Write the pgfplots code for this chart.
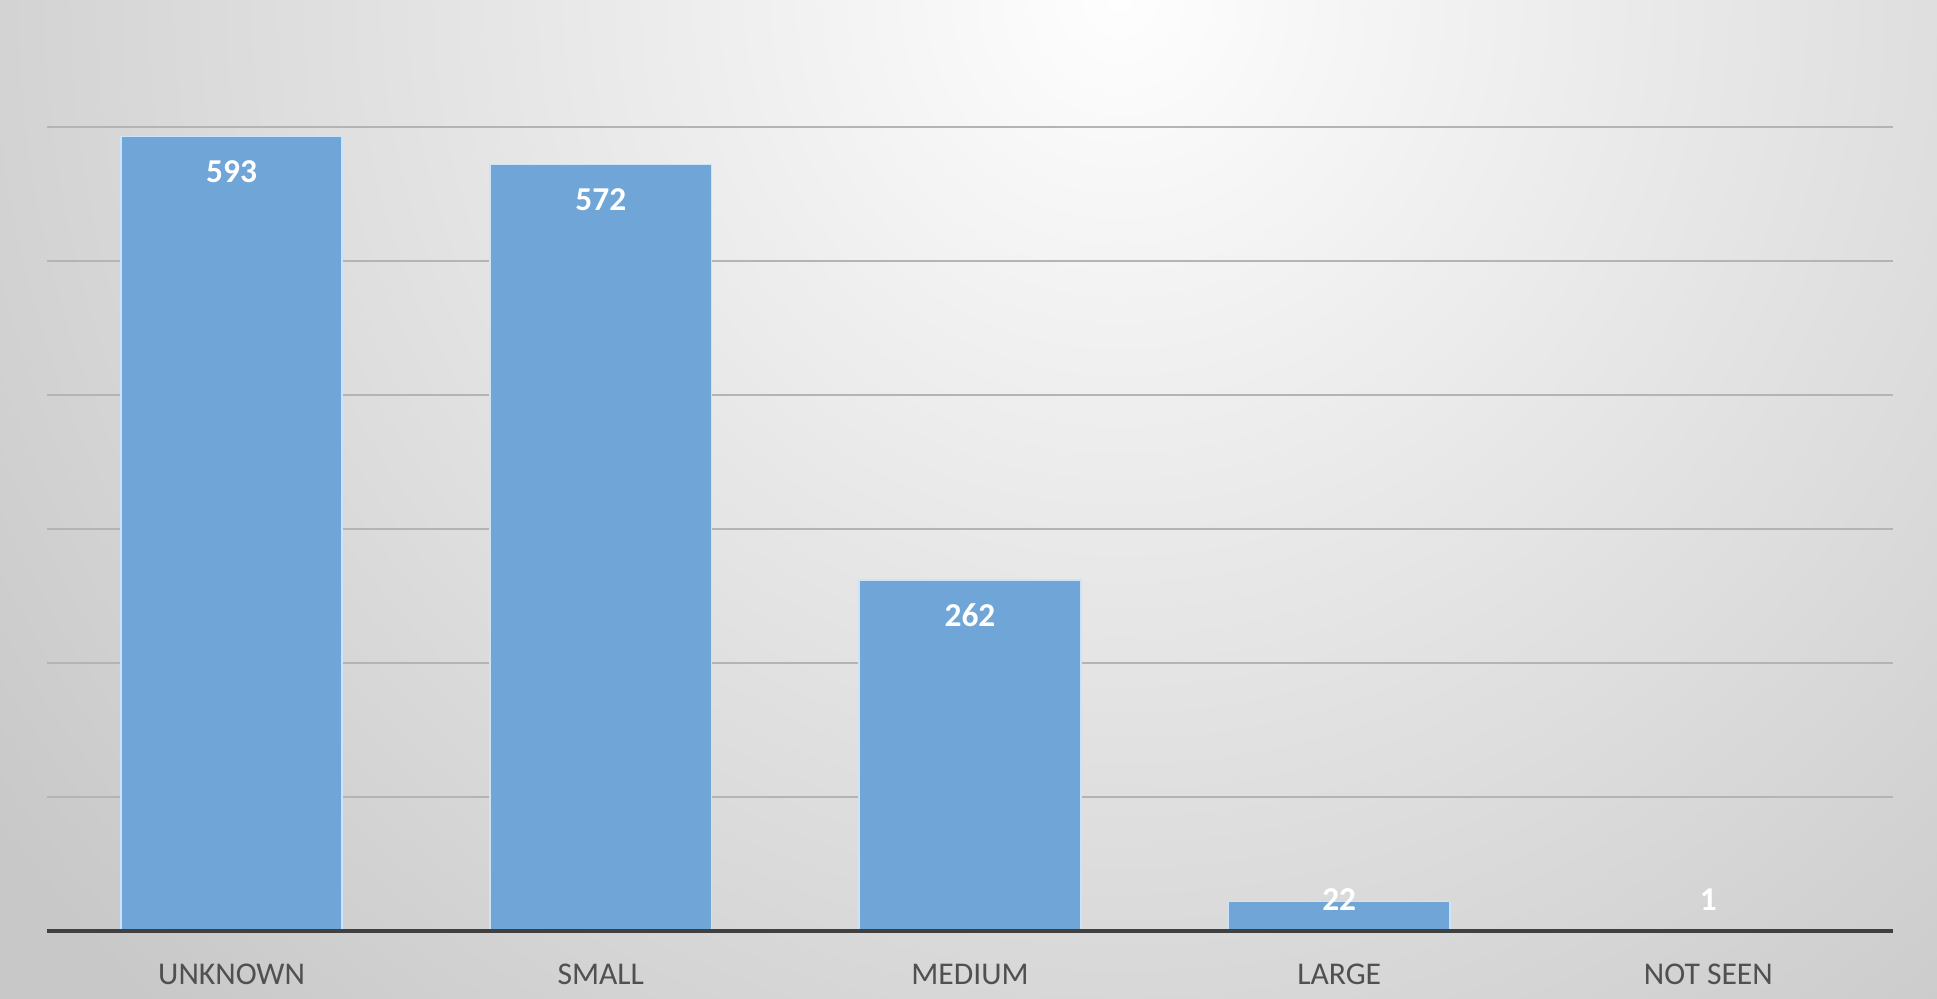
\documentclass[border=0pt]{standalone}
\usepackage{fontspec}
\setmainfont{Carlito}
\usepackage{pgfplots}
\pgfplotsset{compat=1.18}
\definecolor{barblue}{RGB}{111,165,215}
\definecolor{baredge}{RGB}{205,228,248}
\definecolor{gridgray}{RGB}{180,180,180}
\definecolor{axisdark}{RGB}{64,64,64}
\definecolor{ticktext}{RGB}{80,80,80}
\definecolor{bgouter}{RGB}{200,200,200}
\definecolor{bginner}{RGB}{254,254,254}
\begin{document}
\begin{tikzpicture}
% background gradient
\begin{scope}
  \clip (0,0) rectangle (19.37,9.99);
  \fill[bgouter] (0,0) rectangle (19.37,9.99);
  \shade[inner color=bginner, outer color=bgouter] (11.2,10) circle (14cm);
\end{scope}
\path[use as bounding box] (0,0) rectangle (19.37,9.99);
\begin{axis}[
    at={(0.47cm,0.68cm)}, anchor=south west,
    scale only axis,
    width=18.46cm, height=8.04cm,
    ybar, bar width=0.6,
    xmin=-0.5, xmax=4.5, ymin=0, ymax=600,
    xtick=data,
    xticklabels={UNKNOWN, SMALL, MEDIUM, LARGE, NOT SEEN},
    ytick={0,100,...,600}, yticklabels={},
    major tick length=0pt,
    ymajorgrids,
    grid style={gridgray, line width=0.6pt},
    axis x line*=bottom, axis y line*=left,
    y axis line style={draw=none},
    x axis line style={draw=none},
    xticklabel style={font=\fontsize{9}{11}\selectfont, text=ticktext, yshift=-0.21cm},
    /pgf/number format/assume math mode=true,
    clip=false,
    visualization depends on={y \as \rawy},
    nodes near coords,
    nodes near coords style={anchor=center, text=white,
        font=\fontsize{9.5}{11}\selectfont\bfseries,
        yshift={28.45274*max(-0.35,0.31-0.0134*\rawy)}},
]
\addplot[fill=barblue, draw=baredge, line width=0.5pt] coordinates {
    (0,593) (1,572) (2,262) (3,22) (4,1)
};
% horizontal axis line, drawn over the bar bases
\draw[axisdark, line width=1.2pt] (axis cs:-0.5,0) -- (axis cs:4.5,0);
\end{axis}
\end{tikzpicture}
\end{document}
